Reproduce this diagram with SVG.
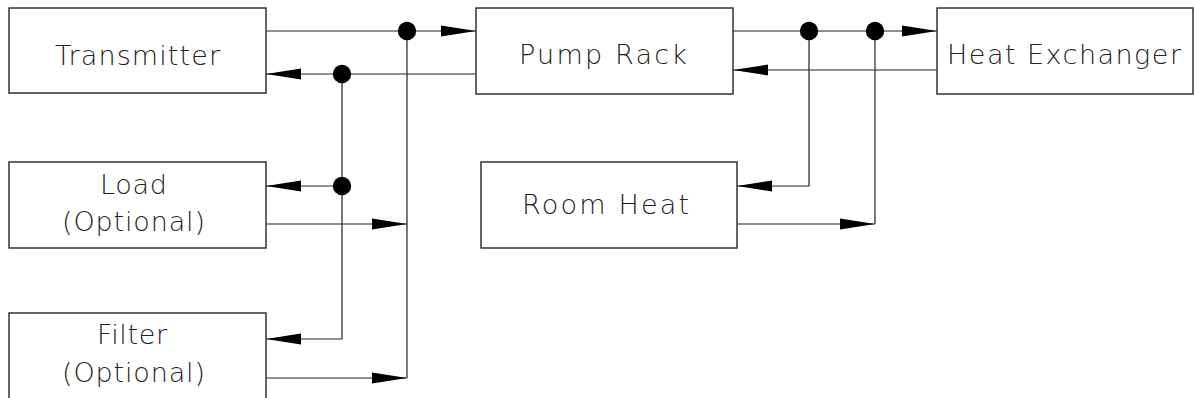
<svg xmlns="http://www.w3.org/2000/svg" width="1194" height="398" viewBox="0 0 1194 398">
<style>
.box{fill:#fff;stroke:#333;stroke-width:1.5}
.ln{fill:none;stroke:#222;stroke-width:1.2}
.dot{fill:#000}
text{font-family:"DejaVu Sans","Liberation Sans",sans-serif;font-weight:200;font-size:27px;fill:#222;text-anchor:middle}
</style>
<defs>
<marker id="ah" markerUnits="userSpaceOnUse" markerWidth="35" markerHeight="12" viewBox="0 0 35 12" refX="35" refY="6" orient="auto">
<path d="M0,0.5 L35,6 L0,11.5 z" fill="#000"/>
</marker>
</defs>
<rect width="1194" height="398" fill="#fff"/>
<g id="connectors">
<line class="ln" x1="266" y1="31" x2="476" y2="31" marker-end="url(#ah)"/>
<line class="ln" x1="476" y1="74" x2="266" y2="74" marker-end="url(#ah)"/>
<polyline class="ln" points="342,74 342,339 266,339" marker-end="url(#ah)"/>
<line class="ln" x1="342" y1="186" x2="266" y2="186" marker-end="url(#ah)"/>
<line class="ln" x1="407" y1="31" x2="407" y2="378"/>
<line class="ln" x1="266" y1="224" x2="407" y2="224" marker-end="url(#ah)"/>
<line class="ln" x1="266" y1="378" x2="407" y2="378" marker-end="url(#ah)"/>
<line class="ln" x1="733" y1="31" x2="937" y2="31" marker-end="url(#ah)"/>
<line class="ln" x1="937" y1="70" x2="733" y2="70" marker-end="url(#ah)"/>
<polyline class="ln" points="809,31 809,186 737,186" marker-end="url(#ah)"/>
<polyline class="ln" points="737,224 875,224" marker-end="url(#ah)"/>
<line class="ln" x1="875" y1="224" x2="875" y2="31"/>
<circle class="dot" cx="407" cy="31" r="9.2"/>
<circle class="dot" cx="342" cy="74" r="9.2"/>
<circle class="dot" cx="342" cy="186" r="9.2"/>
<circle class="dot" cx="809" cy="31" r="9.2"/>
<circle class="dot" cx="875" cy="31" r="9.2"/>
</g>
<g id="transmitter">
<rect class="box" x="9" y="8" width="257" height="85"/>
<text x="137.5" y="65" textLength="165" lengthAdjust="spacing">Transmitter</text>
</g>
<g id="pump-rack">
<rect class="box" x="476" y="8" width="257" height="86"/>
<text x="603" y="64" textLength="168" lengthAdjust="spacing">Pump Rack</text>
</g>
<g id="heat-exchanger">
<rect class="box" x="937" y="8" width="256" height="86"/>
<text x="1064" y="64" textLength="234" lengthAdjust="spacing">Heat Exchanger</text>
</g>
<g id="load">
<rect class="box" x="9" y="162" width="257" height="86"/>
<text x="133.5" y="194" textLength="67" lengthAdjust="spacing">Load</text>
<text x="133.5" y="231" textLength="143" lengthAdjust="spacing">(Optional)</text>
</g>
<g id="room-heat">
<rect class="box" x="481" y="162" width="256" height="86"/>
<text x="605.5" y="214" textLength="167" lengthAdjust="spacing">Room Heat</text>
</g>
<g id="filter">
<rect class="box" x="9" y="313" width="257" height="110"/>
<text x="132" y="344" textLength="70" lengthAdjust="spacing">Filter</text>
<text x="133.5" y="382" textLength="143" lengthAdjust="spacing">(Optional)</text>
</g>
</svg>
